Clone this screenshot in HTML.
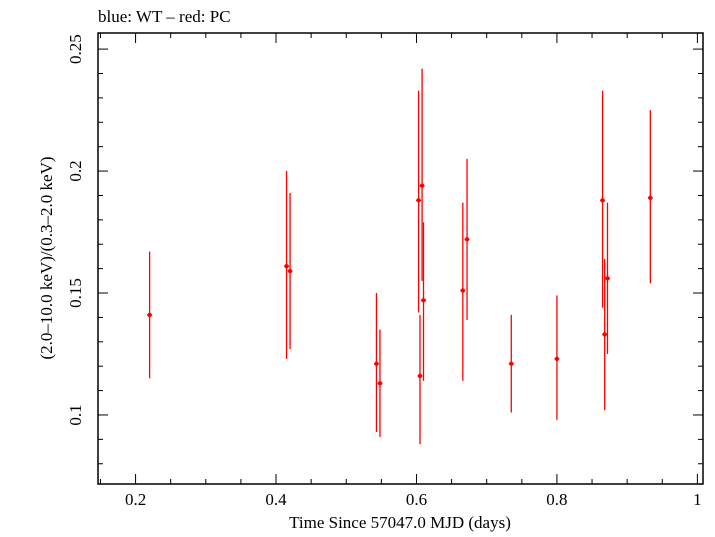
<!DOCTYPE html>
<html><head><meta charset="utf-8"><style>
body{margin:0;background:#fff;}
svg text{font-family:"Liberation Serif",serif;fill:#000;}
</style></head><body>
<svg id="chart" width="715" height="532" xmlns="http://www.w3.org/2000/svg">
<text x="98" y="22" font-size="17">blue: WT – red: PC</text>
<rect x="98" y="33" width="605" height="451" fill="none" stroke="#000" stroke-width="1.5"/>
<g id="ticks"></g>
<g id="marks"></g>
<text x="400" y="528" font-size="17" text-anchor="middle">Time Since 57047.0 MJD (days)</text>
<text transform="translate(52,258) rotate(-90)" font-size="17" text-anchor="middle">(2.0–10.0 keV)/(0.3–2.0 keV)</text>
</svg>
<script>
const times=[0.22,0.415,0.42,0.543,0.548,0.603,0.605,0.608,0.61,0.666,0.672,0.735,0.8,0.865,0.868,0.872,0.933];
const ratios=[0.141,0.161,0.159,0.121,0.113,0.188,0.116,0.194,0.147,0.151,0.172,0.121,0.123,0.188,0.133,0.156,0.189];
const lows=[0.115,0.123,0.127,0.093,0.091,0.142,0.088,0.155,0.114,0.114,0.139,0.101,0.098,0.144,0.102,0.125,0.154];
const highs=[0.167,0.200,0.191,0.150,0.135,0.233,0.141,0.242,0.179,0.187,0.205,0.141,0.149,0.233,0.164,0.187,0.225];
const xTicks=[0.2,0.4,0.6,0.8,1];
const xTickLabels=["0.2","0.4","0.6","0.8","1"];
const yTicks=[0.1,0.15,0.2,0.25];
const yTickLabels=["0.1","0.15","0.2","0.25"];
const X0=98,X1=703,Y0=484,Y1=33;
const xMin=0.1465,xMax=1.008,yMin=0.0717,yMax=0.2566;
function sx(v){return X0+(v-xMin)/(xMax-xMin)*(X1-X0);}
function sy(v){return Y0-(v-yMin)/(yMax-yMin)*(Y0-Y1);}
const NS="http://www.w3.org/2000/svg";
function mk(t,a,p){const e=document.createElementNS(NS,t);for(const k in a)e.setAttribute(k,a[k]);p.appendChild(e);return e;}
const tg=document.getElementById('ticks');
for(let v=0.15;v<=1.001;v+=0.05){const x=sx(v);const major=Math.abs(v*5-Math.round(v*5))<1e-6;const L=major?10:5;
 const t1=mk('line',{x1:x,x2:x,y1:Y0,y2:Y0-L,stroke:'#000','stroke-width':1},tg);
 
 
 const t2=mk('line',{x1:x,x2:x,y1:Y1,y2:Y1+L,stroke:'#000','stroke-width':1},tg);
 
 }
for(let v=0.08;v<=0.2501;v+=0.01){const y=sy(v);const major=Math.abs(v*20-Math.round(v*20))<1e-6;const L=major?10:5;
 const t1=mk('line',{x1:X0,x2:X0+L,y1:y,y2:y,stroke:'#000','stroke-width':1},tg);
 
 
 const t2=mk('line',{x1:X1,x2:X1-L,y1:y,y2:y,stroke:'#000','stroke-width':1},tg);
 
 }
xTicks.forEach((v,i)=>{const t=mk('text',{x:sx(v),y:505,'font-size':17,'text-anchor':'middle'},tg);t.textContent=xTickLabels[i];
 
 });
yTicks.forEach((v,i)=>{const t=mk('text',{transform:`translate(81,${sy(v)}) rotate(-90)`,'font-size':17,'text-anchor':'middle'},tg);t.textContent=yTickLabels[i];
 
 });
const mg=document.getElementById('marks');
times.forEach((t,i)=>{const x=sx(t);
 const g=mk('g',{},mg);
 
 
 mk('line',{x1:x,x2:x,y1:sy(lows[i]),y2:sy(highs[i]),stroke:'#f00','stroke-width':1.3},g);
 mk('line',{x1:x-2.5,x2:x+2.5,y1:sy(ratios[i]),y2:sy(ratios[i]),stroke:'#f00','stroke-width':1.3},g);
 mk('circle',{cx:x,cy:sy(ratios[i]),r:2.2,fill:'#f00'},g);});
</script>
</body></html>
